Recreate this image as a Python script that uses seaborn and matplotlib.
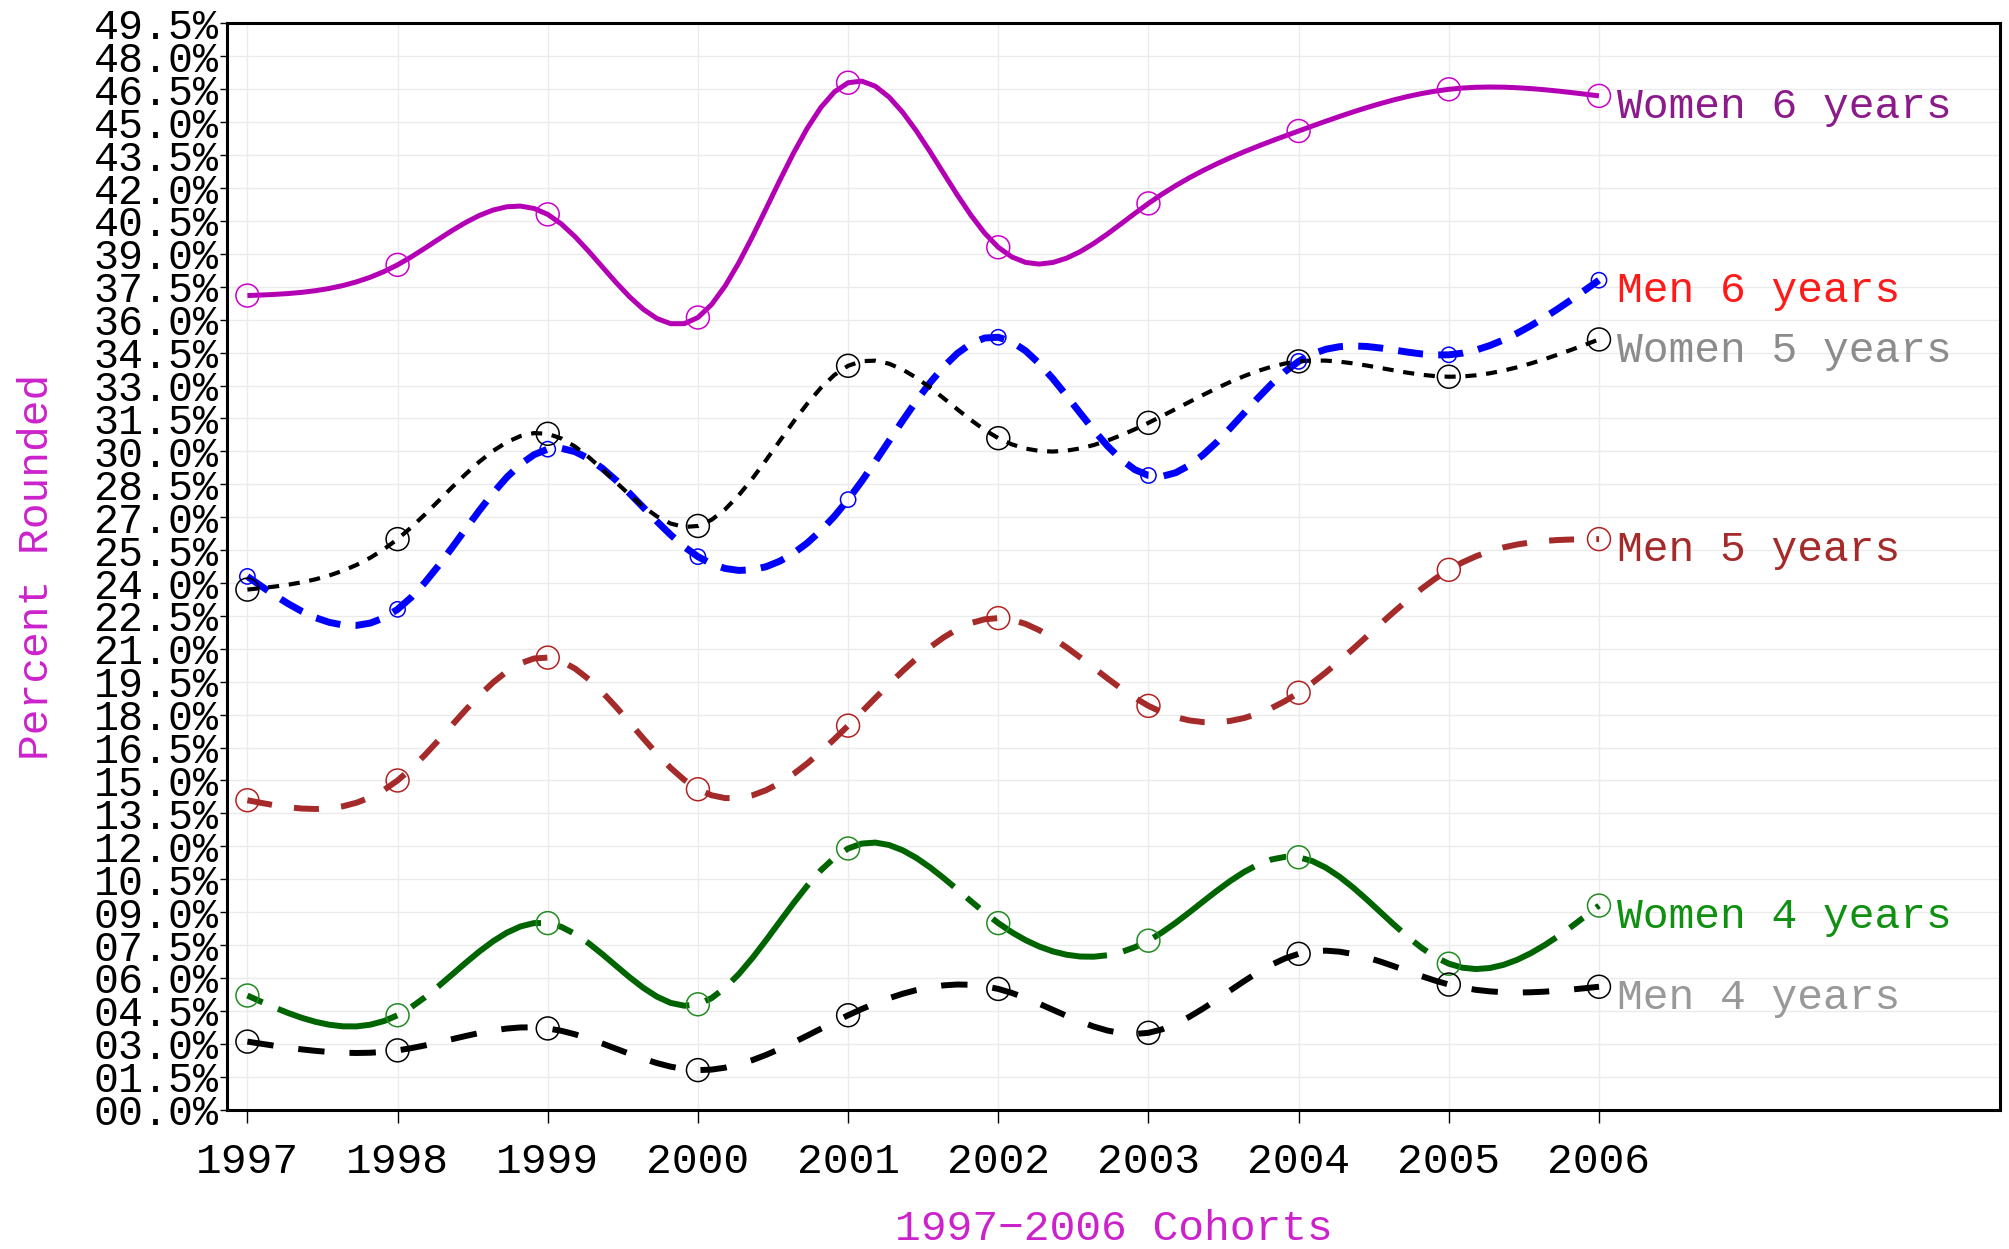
import numpy as np
import pandas as pd
import seaborn as sns
import matplotlib
matplotlib.use("Agg")
import matplotlib.pyplot as plt
from matplotlib.ticker import FixedLocator, FuncFormatter

# cohort years and graduation rates (percent)
years = [1997, 1998, 1999, 2000, 2001, 2002, 2003, 2004, 2005, 2006]
women_6 = [37.1, 38.5, 40.8, 36.1, 46.8, 39.3, 41.3, 44.6, 46.5, 46.2]
men_6 = [24.3, 22.8, 30.1, 25.2, 27.8, 35.2, 28.9, 34.1, 34.4, 37.8]
women_5 = [23.7, 26.0, 30.8, 26.6, 33.9, 30.6, 31.3, 34.1, 33.4, 35.1]
men_5 = [14.1, 15.0, 20.6, 14.6, 17.5, 22.4, 18.4, 19.0, 24.6, 26.0]
women_4 = [5.2, 4.3, 8.5, 4.8, 11.9, 8.5, 7.7, 11.5, 6.65, 9.3]
men_4 = [3.1, 2.7, 3.7, 1.8, 4.3, 5.5, 3.5, 7.1, 5.7, 5.6]

labels = ["Women 6 years", "Men 6 years", "Women 5 years",
          "Men 5 years", "Women 4 years", "Men 4 years"]
series = [women_6, men_6, women_5, men_5, women_4, men_4]

# styles: line colour, marker colour, label colour, width, dash (points), marker size
line_cols = ["#B400B4", "#0000FF", "#000000", "#A52A2A", "#006400", "#000000"]
mark_cols = ["#CC00CC", "#0000FF", "#000000", "#B22222", "#228B22", "#000000"]
text_cols = ["#8B1A8B", "#FF1A1A", "#8C8C8C", "#A52A2A", "#109010", "#999999"]
widths = [3.6, 5.0, 3.0, 4.3, 4.3, 4.3]
dashes = [None, (18, 11), (8, 7), (18, 16), (12, 12, 89, 12), (19, 18)]
msizes = [16.5, 11, 16.5, 16.5, 16.5, 16.5]


def spline_curve(x, y, n):
    # natural cubic spline through the points, sampled n times for drawing
    x = np.asarray(x, float)
    y = np.asarray(y, float)
    N = len(x)
    h = np.diff(x)
    A = np.zeros((N, N))
    b = np.zeros(N)
    A[0, 0] = 1
    A[-1, -1] = 1
    for i in range(1, N - 1):
        A[i, i - 1] = h[i - 1]
        A[i, i] = 2 * (h[i - 1] + h[i])
        A[i, i + 1] = h[i]
        b[i] = 6 * ((y[i + 1] - y[i]) / h[i] - (y[i] - y[i - 1]) / h[i - 1])
    M = np.linalg.solve(A, b)
    xs = np.linspace(x[0], x[-1], n)
    idx = np.clip(np.searchsorted(x, xs, side="right") - 1, 0, N - 2)
    x0, x1 = x[idx], x[idx + 1]
    hh = x1 - x0
    ys = (M[idx] * (x1 - xs) ** 3 / (6 * hh) + M[idx + 1] * (xs - x0) ** 3 / (6 * hh)
          + (y[idx] / hh - M[idx] * hh / 6) * (x1 - xs)
          + (y[idx + 1] / hh - M[idx + 1] * hh / 6) * (xs - x0))
    return xs, ys


sns.set_theme(style="white")
plt.rcParams["font.family"] = ["Liberation Mono", "DejaVu Sans Mono"]
plt.rcParams["lines.scale_dashes"] = False
plt.rcParams["axes.unicode_minus"] = True

fig = plt.figure(figsize=(20.09, 12.49), dpi=100)
ax = fig.add_axes([0.1129, 0.1116, 0.8826, 0.8696])

for i, vals in enumerate(series):
    xs, ys = spline_curve(years, vals, 100)
    kw = {} if dashes[i] is None else {"linestyle": (0, dashes[i])}
    sns.lineplot(x=xs, y=ys, ax=ax, color=line_cols[i], linewidth=widths[i],
                 sort=False, estimator=None, solid_capstyle="butt",
                 dash_capstyle="butt", **kw)
    sns.scatterplot(x=years, y=vals, ax=ax, s=msizes[i] ** 2, marker="o",
                    facecolor="none", edgecolor=mark_cols[i], linewidth=1.1,
                    zorder=3)
    ax.annotate(labels[i], xy=(years[-1], vals[-1]), xytext=(13, -8),
                textcoords="offset points", ha="left", va="center",
                fontsize=31, color=text_cols[i])

ax.set_xlim(1996.863, 2008.67)
ax.set_ylim(0, 49.5)
yt = np.arange(0, 49.51, 1.5)
ax.yaxis.set_major_locator(FixedLocator(yt))
ax.yaxis.set_major_formatter(FuncFormatter(lambda v, p: "%04.1f%%" % v))
ax.set_xticks(years)
ax.set_xticklabels([str(y) for y in years])

ax.grid(True, color="#EBEBEB", linewidth=1.0)
ax.set_axisbelow(True)
for sp in ax.spines.values():
    sp.set_visible(True)
    sp.set_color("black")
    sp.set_linewidth(2.2)

ax.tick_params(axis="y", which="major", left=True, length=5, width=1.0,
               color="black", pad=1, labelsize=30, labelcolor="black")
ax.tick_params(axis="x", which="major", bottom=True, length=9, width=1.0,
               color="black", pad=14, labelsize=31, labelcolor="black")

ax.set_xlabel("1997\u22122006 Cohorts", fontsize=31, color="#CC22CC", labelpad=20)
ax.set_ylabel("Percent Rounded", fontsize=31, color="#CC22CC", labelpad=26)

fig.savefig("out.png", dpi=100)
